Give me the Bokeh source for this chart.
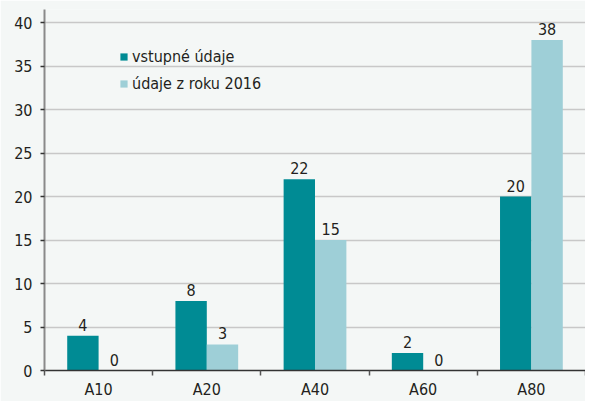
from bokeh.plotting import figure
from bokeh.models import (ColumnDataSource, Range1d, FixedTicker, Legend, LegendItem)
from bokeh.core.properties import value
from bokeh.transform import dodge
from bokeh.embed import file_html
from bokeh.resources import INLINE

categories = ["A10", "A20", "A40", "A60", "A80"]
vstupne = [4, 8, 22, 2, 20]
rok2016 = [0, 3, 15, 0, 38]
series_names = ["vstupné údaje", "údaje z roku 2016"]
y_ticks = [0, 5, 10, 15, 20, 25, 30, 35, 40]

FONT = "DejaVu Sans Condensed"
FS = "16px"
DARK = "#008b94"
LIGHT = "#9ecfd7"
TXT = "#231f20"
BG = "#f4f7f6"

pos = [i + 0.5 for i in range(len(categories))]
src = ColumnDataSource(dict(
    x=pos, cat=categories, a=vstupne, b=rok2016,
    at=[str(v) for v in vstupne], bt=[str(v) for v in rok2016],
))

p = figure(width=585, height=401, output_backend="svg", toolbar_location=None,
           x_range=Range1d(0, 5), y_range=Range1d(0, 41.5),
           background_fill_color=BG, border_fill_color=BG,
           min_border_left=44, min_border_right=0, min_border_top=9,
           min_border_bottom=24)
p.outline_line_color = None

bw = 0.29
r1 = p.vbar(x=dodge("x", -bw / 2), top="a", width=bw, source=src,
            fill_color=DARK, line_color=None)
r2 = p.vbar(x=dodge("x", bw / 2), top="b", width=bw, source=src,
            fill_color=LIGHT, line_color=None)

for col, txt, off in (("a", "at", -bw / 2), ("b", "bt", bw / 2)):
    p.text(x=dodge("x", off), y=col, text=txt, source=src,
           text_align="center", text_baseline="bottom", y_offset=-5,
           text_font=value(FONT), text_font_size=value(FS), text_color=TXT)

# axes
p.xgrid.visible = False
p.ygrid.grid_line_color = "#c8c8c8"
p.ygrid.grid_line_width = 1.5
p.ygrid.ticker = FixedTicker(ticks=y_ticks)

p.yaxis.ticker = FixedTicker(ticks=y_ticks)
p.yaxis.axis_line_color = "#8a8a8a"
p.yaxis.axis_line_width = 2
p.yaxis.major_tick_in = 0
p.yaxis.major_tick_out = 4
p.yaxis.major_tick_line_color = "#333333"
p.yaxis.major_tick_line_width = 1.5
p.yaxis.minor_tick_line_color = None
p.yaxis.major_label_standoff = 8
p.yaxis.major_label_text_font = FONT
p.yaxis.major_label_text_font_size = FS
p.yaxis.major_label_text_color = TXT

p.xaxis.ticker = FixedTicker(ticks=pos, minor_ticks=[0, 1, 2, 3, 4, 5])
p.xaxis.major_label_overrides = {x: c for x, c in zip(pos, categories)}
p.xaxis.axis_line_color = "#333333"
p.xaxis.axis_line_width = 1.5
p.xaxis.major_tick_line_color = None
p.xaxis.minor_tick_line_color = "#555555"
p.xaxis.minor_tick_line_width = 1.5
p.xaxis.minor_tick_in = 0
p.xaxis.minor_tick_out = 5
p.xaxis.major_label_standoff = 3
p.xaxis.major_label_text_font = FONT
p.xaxis.major_label_text_font_size = FS
p.xaxis.major_label_text_color = TXT

legend = Legend(items=[LegendItem(label=series_names[0], renderers=[r1]),
                       LegendItem(label=series_names[1], renderers=[r2])],
                location=(75, 277), background_fill_alpha=0, border_line_color=None,
                glyph_width=9, glyph_height=9, label_standoff=4, spacing=8,
                padding=0, margin=0,
                label_text_font=FONT, label_text_font_size=FS,
                label_text_color=TXT)
p.add_layout(legend, "center")

open("out.html", "w").write(file_html(p, INLINE))
